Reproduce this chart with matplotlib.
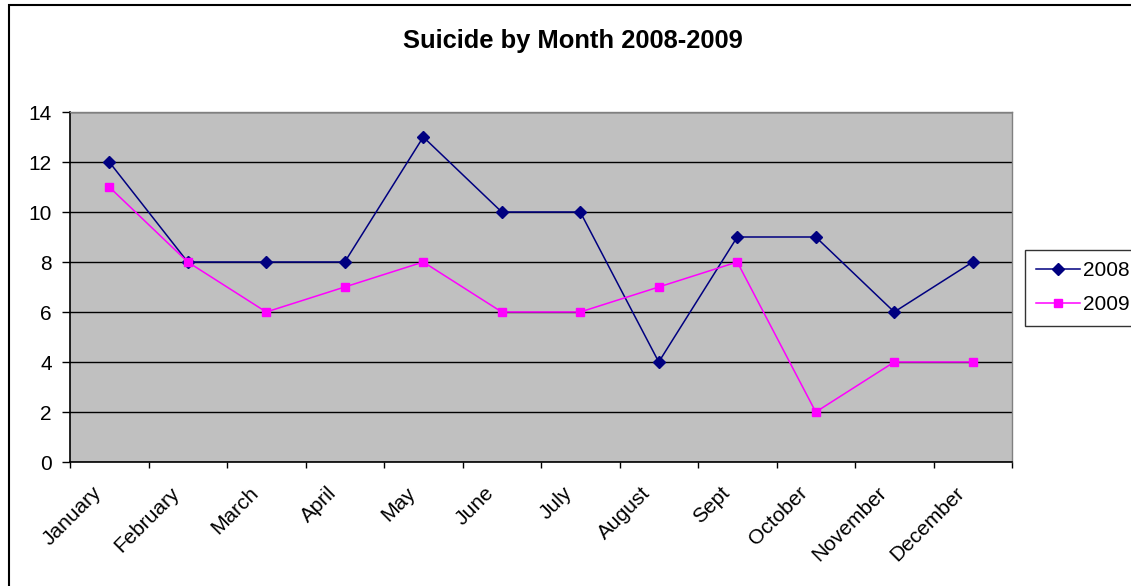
import matplotlib
matplotlib.use("Agg")
import matplotlib.pyplot as plt
from matplotlib.patches import Rectangle
from matplotlib.transforms import ScaledTranslation
import numpy as np

months = ["January", "February", "March", "April", "May", "June", "July",
          "August", "Sept", "October", "November", "December"]
deaths_2008 = [12, 8, 8, 8, 13, 10, 10, 4, 9, 9, 6, 8]
deaths_2009 = [11, 8, 6, 7, 8, 6, 6, 7, 8, 2, 4, 4]
y_ticks = [0, 2, 4, 6, 8, 10, 12, 14]

plt.rcParams["font.family"] = ["Liberation Sans", "DejaVu Sans"]

W, H = 1131, 586
fig = plt.figure(figsize=(W / 100, H / 100), dpi=100)
fig.patch.set_facecolor("white")

# chart frame
fig.add_artist(Rectangle((9 / W, -0.05), 1.1, 1 - 5 / H + 0.05,
                         transform=fig.transFigure, fill=False,
                         edgecolor="black", linewidth=1.5))

left, right, top, bottom = 70, 1012, 112, 462
ax = fig.add_axes([left / W, 1 - bottom / H, (right - left) / W, (bottom - top) / H])
ax.set_facecolor("#C0C0C0")

x = np.arange(len(months)) + 0.5
ax.plot(x, deaths_2008, color="#000080", linewidth=1.1, marker="D",
        markersize=6, label="2008", zorder=3)
ax.plot(x, deaths_2009, color="#FF00FF", linewidth=1.1, marker="s",
        markersize=6.3, label="2009", zorder=3)

ax.set_xlim(0, len(months))
ax.set_ylim(0, 14)
ax.set_yticks(y_ticks)
ax.set_yticklabels([str(v) for v in y_ticks])
ax.yaxis.grid(True, color="black", linewidth=1.0)
ax.set_axisbelow(True)

ax.set_xticks(np.arange(len(months) + 1), minor=True)
ax.set_xticks(x)
ax.set_xticklabels(months, rotation=45, ha="right", va="center",
                   rotation_mode="anchor")
ax.tick_params(axis="x", which="major", length=0, pad=20, labelsize=15)
ax.tick_params(axis="x", which="minor", length=4.5, width=1, direction="out")
ax.tick_params(axis="y", length=5.5, width=1, direction="out", labelsize=15, pad=7.5)
shift = ScaledTranslation(-11 / 100, 0, fig.dpi_scale_trans)
for lbl in ax.get_xticklabels():
    lbl.set_transform(lbl.get_transform() + shift)

for side in ("top", "right"):
    ax.spines[side].set_color("#808080")
    ax.spines[side].set_linewidth(1.0)
for side in ("left", "bottom"):
    ax.spines[side].set_color("black")
    ax.spines[side].set_linewidth(1.2)

fig.text(573 / W, 1 - 48 / H, "Suicide by Month 2008-2009", ha="center",
         va="baseline", fontsize=18.4, fontweight="bold")

leg = fig.legend(loc="upper left", bbox_to_anchor=(1025 / W, 1 - 250 / H),
                 frameon=True, fancybox=False, fontsize=15, handlelength=2.1,
                 borderpad=0.55, labelspacing=0.7, handletextpad=0.15,
                 borderaxespad=0)
leg.get_frame().set_edgecolor("black")
leg.get_frame().set_linewidth(1.0)

fig.savefig("out.png", dpi=100)
